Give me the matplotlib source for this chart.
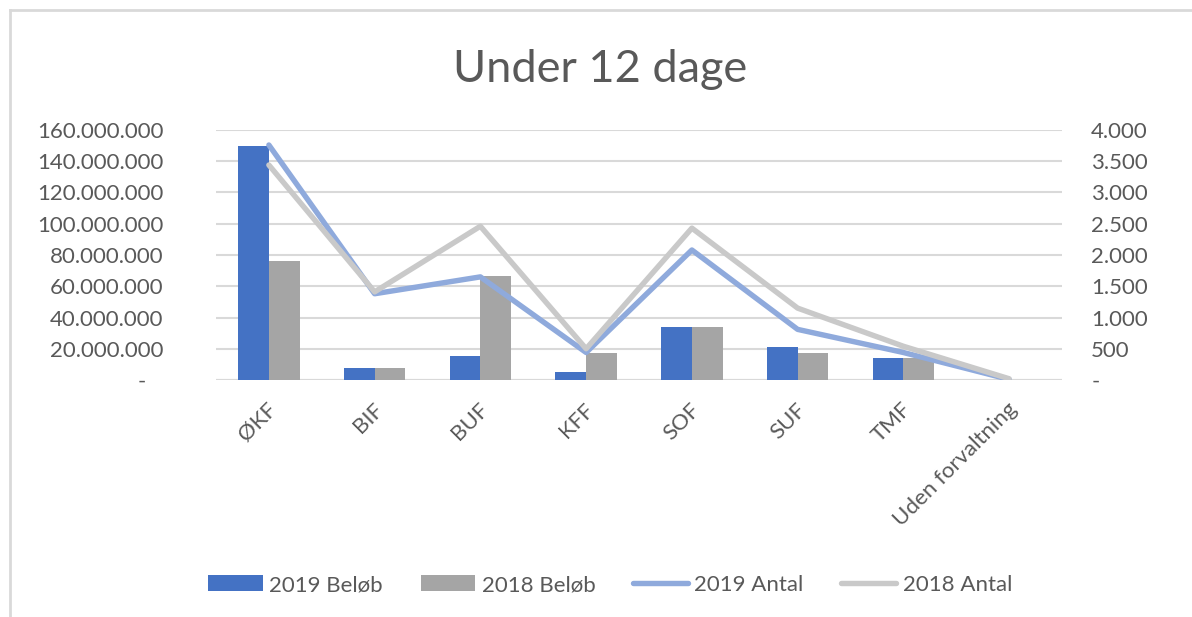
import numpy as np
import matplotlib
matplotlib.use("Agg")
import matplotlib.pyplot as plt
from matplotlib.lines import Line2D
from matplotlib.transforms import ScaledTranslation
from matplotlib.ticker import FuncFormatter, MultipleLocator

plt.rcParams['font.family'] = ['Lato', 'DejaVu Sans']

categories = ["ØKF", "BIF", "BUF", "KFF", "SOF", "SUF", "TMF", "Uden forvaltning"]
belob_2019 = [150.0e6, 8.0e6, 15.4e6, 5.3e6, 34.1e6, 21.1e6, 14.3e6, 0]
belob_2018 = [76.4e6, 8.0e6, 66.6e6, 17.5e6, 34.1e6, 17.5e6, 14.3e6, 0]
antal_2019 = [3760, 1380, 1650, 440, 2080, 810, 440, 10]
antal_2018 = [3440, 1410, 2460, 500, 2430, 1150, 540, 20]

TXT = "#595959"
GRID = "#D9D9D9"
BLUE = "#4472C4"
GREY = "#A5A5A5"
LBLUE = "#8FAADC"
LGREY = "#C9C9C9"

fig = plt.figure(figsize=(11.92, 6.17), dpi=100)
ax = fig.add_axes([216 / 1192, 1 - 380 / 617, 846 / 1192, 250 / 617])
ax2 = ax.twinx()

x = np.arange(len(categories))
w = 0.29
ax.bar(x - w / 2, belob_2019, w, color=BLUE, label="2019 Beløb", zorder=2)
ax.bar(x + w / 2, belob_2018, w, color=GREY, label="2018 Beløb", zorder=2)

ax2.plot(x, antal_2019, color=LBLUE, lw=3.9, solid_joinstyle="round",
         solid_capstyle="round", label="2019 Antal")
ax2.plot(x, antal_2018, color=LGREY, lw=3.9, solid_joinstyle="round",
         solid_capstyle="round", label="2018 Antal")

ax.set_xlim(-0.5, len(categories) - 0.5)
ax.set_ylim(0, 160e6)
ax2.set_ylim(0, 4000)
ax.yaxis.set_major_locator(MultipleLocator(20e6))
ax2.yaxis.set_major_locator(MultipleLocator(500))


def fmt_left(v, pos):
    if v == 0:
        return "-   "
    return f"{int(round(v)):,}".replace(",", ".")


def fmt_right(v, pos):
    if v == 0:
        return "-"
    return f"{int(round(v)):,}".replace(",", ".")


ax.yaxis.set_major_formatter(FuncFormatter(fmt_left))
ax2.yaxis.set_major_formatter(FuncFormatter(fmt_right))

ax.grid(axis="y", color=GRID, lw=1.5)
ax.set_axisbelow(True)
for a in (ax, ax2):
    for s in a.spines.values():
        s.set_visible(False)
ax.axhline(0, color=GRID, lw=1.5, zorder=1)

ax.tick_params(axis="y", length=0, pad=38, labelsize=16, labelcolor=TXT)
ax2.tick_params(axis="y", length=0, pad=21, labelsize=16, labelcolor=TXT)
ax.tick_params(axis="x", length=0, pad=19, labelsize=16, labelcolor=TXT)

ax.set_xticks(x)
ax.set_xticklabels(categories, rotation=45, ha="right", va="center",
                   rotation_mode="anchor")
for lab in ax.get_xticklabels():
    lab.set_transform(lab.get_transform() + ScaledTranslation(5 / 100, 0, fig.dpi_scale_trans))

fig.text(600 / 1192, 1 - 82 / 617, "Under 12 dage", ha="center", va="baseline",
         fontsize=32.5, color=TXT)

h1, l1 = ax.get_legend_handles_labels()
h2, l2 = ax2.get_legend_handles_labels()
fig.legend(h1 + h2, l1 + l2, loc="center", ncol=4, frameon=False,
           bbox_to_anchor=(610 / 1192, 1 - 585 / 617), fontsize=16,
           labelcolor=TXT, handlelength=2.45, handletextpad=0.3,
           columnspacing=1.7)

# chart frame (left and top edges visible in screenshot)
fig.add_artist(Line2D([10 / 1192, 10 / 1192], [0, 1 - 10 / 617], color="#D9D9D9", lw=2,
                      transform=fig.transFigure))
fig.add_artist(Line2D([10 / 1192, 1], [1 - 10 / 617, 1 - 10 / 617], color="#D9D9D9", lw=2,
                      transform=fig.transFigure))

fig.savefig("out.png", dpi=100)
